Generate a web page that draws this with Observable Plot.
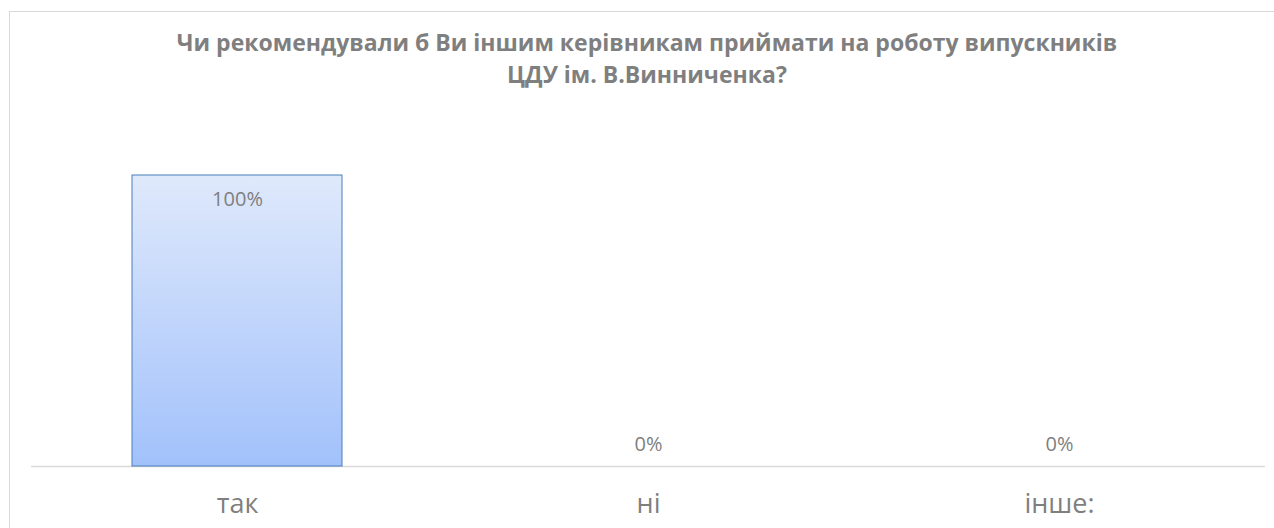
<!DOCTYPE html>
<html>
<head>
<meta charset="utf-8">
<script src="https://cdn.jsdelivr.net/npm/d3@7"></script>
<script src="https://cdn.jsdelivr.net/npm/@observablehq/plot@0.6"></script>
<style>
  html, body { margin: 0; padding: 0; background: #fff; }
  body { width: 1274px; height: 528px; overflow: hidden; position: relative; font-family: "Open Sans", "Noto Sans", sans-serif; }
  #frame { position: absolute; left: 9px; top: 11px; width: 1300px; height: 600px; border: 1px solid #d9d9d9; box-sizing: border-box; }
  #title { position: relative; height: 100px; box-sizing: border-box; padding-top: 26px; text-align: center; color: #7f7f7f; font-weight: bold; font-size: 23px; line-height: 32px; padding-left: 20px; white-space: nowrap; }
  #chart { position: relative; }
</style>
</head>
<body>
<div id="frame"></div>
<div id="title">Чи рекомендували б Ви іншим керівникам приймати на роботу випускників<br>ЦДУ ім. В.Винниченка?</div>
<div id="chart"></div>
<script>
const categories = ["так", "ні", "інше:"];
const values = [1.0, 0.0, 0.0];
const valueLabels = ["100%", "0%", "0%"];

const data = categories.map((c, i) => ({category: c, value: values[i], label: valueLabels[i]}));

const defs = () => {
  const g = d3.create("svg:defs");
  const lg = g.append("linearGradient").attr("id", "barGrad").attr("x1", 0).attr("y1", 0).attr("x2", 0).attr("y2", 1);
  lg.append("stop").attr("offset", "0%").attr("stop-color", "#dfe9fb");
  lg.append("stop").attr("offset", "100%").attr("stop-color", "#a2c1fb");
  const f = g.append("filter").attr("id", "shadow").attr("x", "-10%").attr("y", "-10%").attr("width", "130%").attr("height", "130%");
  f.append("feDropShadow").attr("dx", 1.5).attr("dy", 1.5).attr("stdDeviation", 1.5).attr("flood-color", "#000").attr("flood-opacity", 0.25);
  return g.node();
};

const chart = Plot.plot({
  width: 1274,
  height: 428,
  marginLeft: 31,
  marginRight: 9,
  marginTop: 75,
  marginBottom: 62,
  style: {fontFamily: "'Open Sans', 'Noto Sans', sans-serif", color: "#7f7f7f", background: "transparent"},
  x: {domain: categories, paddingInner: 0.49, paddingOuter: 0.245, label: null, axis: null},
  y: {domain: [0, 1], axis: null},
  marks: [
    defs,
    Plot.ruleY([0], {stroke: "#d9d9d9", strokeWidth: 1.5}),
    Plot.barY(data, {x: "category", y: "value", fill: "url(#barGrad)", stroke: "#4a7ebb", strokeWidth: 1, filter: d => d.value > 0}),
    Plot.text(data.filter(d => d.value > 0), {x: "category", y: "value", text: "label", dy: 24, fontSize: 20, fill: "#7f7f7f"}),
    Plot.text(data.filter(d => d.value === 0), {x: "category", y: "value", text: "label", dy: -22, fontSize: 20, fill: "#7f7f7f"}),
    Plot.text(categories, {x: d => d, text: d => d, frameAnchor: "bottom", dy: 46, fontSize: 27, fill: "#7f7f7f"})
  ]
});
chart.querySelectorAll("rect").forEach(r => { if (r.getAttribute("fill") === "url(#barGrad)") r.setAttribute("filter", "url(#shadow)"); });
document.getElementById("chart").appendChild(chart);
</script>
</body>
</html>
